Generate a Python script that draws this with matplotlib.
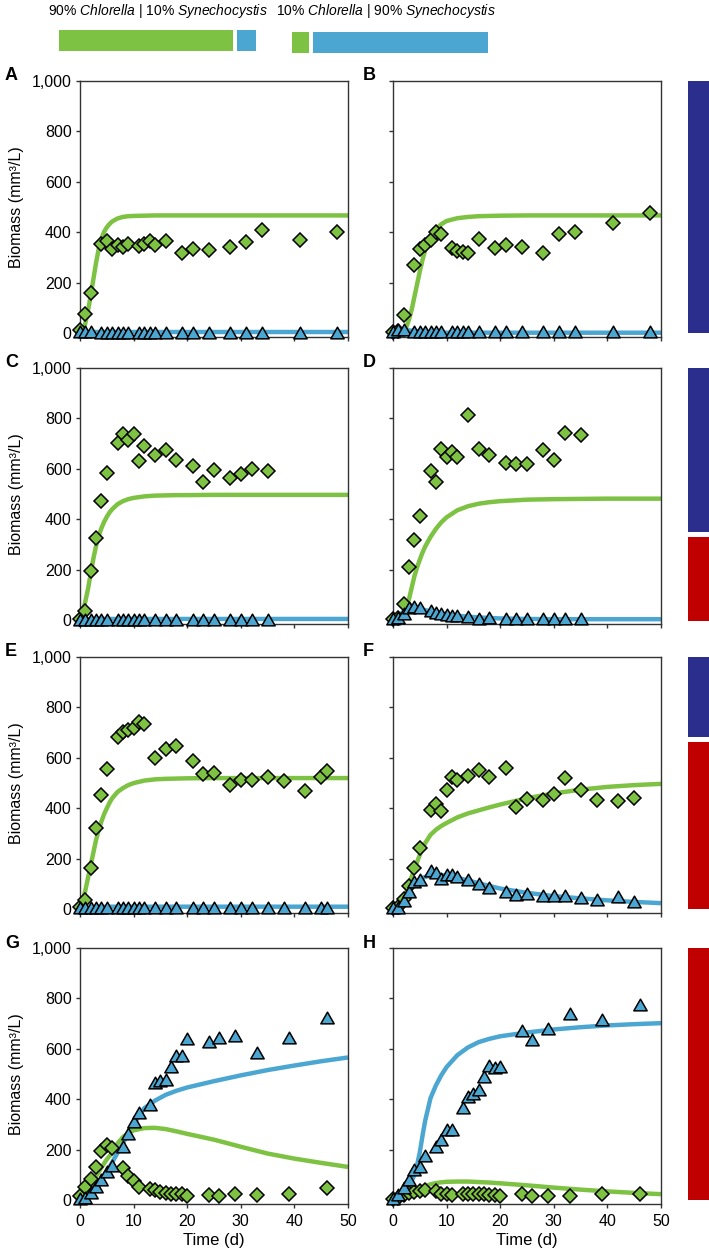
import matplotlib
matplotlib.use('Agg')
import matplotlib.pyplot as plt
from matplotlib.patches import Rectangle
from matplotlib.path import Path
from matplotlib.ticker import FuncFormatter

plt.rcParams['font.family'] = ['Liberation Sans', 'DejaVu Sans']
plt.rcParams['mathtext.fontset'] = 'custom'
plt.rcParams['mathtext.rm'] = 'Liberation Sans'
plt.rcParams['mathtext.it'] = 'Liberation Sans:italic'

# sampling days, per row of panels
t_AB = [0, 1, 2, 4, 5, 6, 7, 8, 9, 11, 12, 13, 14, 16, 19, 21, 24, 28, 31, 34, 41, 48]
t_CD = [0, 1, 2, 3, 4, 5, 7, 8, 9, 10, 11, 12, 14, 16, 18, 21, 23, 25, 28, 30, 32, 35]
t_E = [0, 1, 2, 3, 4, 5, 7, 8, 9, 10, 11, 12, 14, 16, 18, 21, 23, 25, 28, 30, 32, 35, 38, 42, 45, 46]
t_F = [0, 1, 2, 3, 4, 5, 7, 8, 9, 10, 11, 12, 14, 16, 18, 21, 23, 25, 28, 30, 32, 35, 38, 42, 45]
t_GH = [0, 1, 2, 3, 4, 5, 6, 8, 9, 10, 11, 13, 14, 15, 16, 17, 18, 19, 20, 24, 26, 29, 33, 39, 46]

# measured biomass (mm3/L): Chlorella (diamonds), Synechocystis (triangles)
chl_A = [13, 75, 160, 355, 364, 335, 350, 341, 355, 344, 352, 365, 348, 364, 317, 335, 331, 341, 361, 411, 368, 401]
syn_A = [3, 3, 3, 2, 2, 2, 2, 2, 2, 2, 2, 2, 2, 2, 2, 2, 2, 2, 2, 2, 2, 2]
chl_B = [5, 10, 73, 272, 335, 350, 368, 401, 392, 337, 324, 321, 317, 374, 337, 350, 341, 317, 392, 403, 438, 476]
syn_B = [3, 13, 11, 5, 3, 3, 3, 3, 3, 3, 3, 3, 3, 3, 3, 3, 3, 3, 3, 3, 3, 3]
chl_C = [4, 35, 194, 327, 473, 582, 704, 738, 714, 738, 631, 691, 655, 675, 637, 611, 548, 595, 562, 579, 598, 592]
syn_C = [2, 2, 2, 2, 2, 2, 2, 2, 2, 2, 2, 2, 2, 2, 2, 2, 2, 2, 2, 2, 2, 2]
chl_D = [5, 10, 64, 212, 319, 413, 592, 548, 677, 648, 668, 648, 814, 677, 657, 624, 621, 621, 675, 637, 741, 734]
syn_D = [3, 7, 24, 48, 53, 48, 35, 27, 24, 20, 17, 15, 11, 4, 7, 4, 4, 4, 4, 4, 4, 4]
chl_E = [10, 37, 165, 321, 454, 556, 681, 702, 712, 718, 741, 734, 599, 635, 646, 586, 536, 540, 493, 511, 513,
         526, 509, 470, 526, 549]
syn_E = [3, 4, 5, 6, 6, 6, 6, 6, 6, 6, 6, 6, 6, 6, 6, 6, 6, 6, 6, 6, 6, 6, 6, 6, 6, 6]
chl_F = [5, 10, 40, 93, 163, 242, 392, 417, 388, 474, 524, 513, 529, 553, 526, 560, 407, 437, 434, 456, 522, 474,
         434, 430, 440]
syn_F = [3, 5, 33, 70, 107, 116, 150, 143, 119, 134, 136, 126, 114, 99, 83, 70, 57, 61, 53, 54, 54, 46, 37, 48, 28]
chl_G = [15, 53, 86, 132, 195, 219, 208, 126, 95, 75, 53, 46, 40, 33, 29, 26, 23, 23, 16, 20, 16, 24, 19, 26, 49]
syn_G = [3, 7, 29, 53, 82, 113, 135, 212, 261, 311, 347, 377, 464, 474, 477, 530, 572, 570, 638, 629, 645, 652,
         585, 642, 722]
chl_H = [5, 10, 20, 29, 33, 37, 40, 37, 26, 26, 20, 26, 24, 24, 23, 23, 20, 20, 16, 23, 16, 17, 16, 24, 26]
syn_H = [3, 20, 49, 79, 119, 132, 175, 212, 238, 278, 278, 367, 411, 421, 437, 490, 532, 526, 530, 669, 636, 678,
         738, 715, 775]

t_fit = [0, 0.5, 1, 1.5, 2, 2.5, 3, 3.5, 4, 4.5, 5, 5.5, 6, 7, 8, 9, 10, 12, 14, 16, 18, 20, 25, 30, 35, 40, 45, 50]
chlfit_A = [0, 8, 40, 90, 150, 215, 280, 335, 375, 402, 420, 433, 443, 455, 461, 464, 465, 466, 467, 467, 467, 467,
            467, 467, 467, 467, 467, 467]
synfit_A = [3, 3, 3, 3, 3, 3, 3, 3, 3, 3, 3, 3, 3, 3, 3, 3, 3, 3, 3, 3, 3, 3, 3, 3, 3, 3, 3, 3]
chlfit_B = [0, 1, 3, 6, 12, 25, 55, 95, 145, 195, 245, 290, 330, 380, 412, 432, 445, 456, 461, 464, 465, 466, 467,
            467, 467, 467, 467, 467]
synfit_B = [3, 6, 9, 11, 12, 12, 11, 10, 9, 8, 7, 6, 5, 4, 3, 3, 2, 2, 2, 2, 2, 2, 2, 2, 2, 2, 2, 2]
chlfit_C = [5, 35, 75, 125, 185, 245, 295, 335, 365, 390, 410, 427, 440, 460, 472, 480, 485, 491, 494, 495, 496, 496,
            497, 497, 497, 497, 497, 497]
synfit_C = [2, 3, 4, 4, 5, 5, 5, 5, 5, 5, 5, 5, 5, 5, 5, 5, 5, 5, 5, 5, 5, 5, 5, 5, 5, 5, 5, 5]
chlfit_D = [0, 2, 5, 12, 25, 50, 85, 130, 175, 210, 240, 268, 292, 330, 362, 388, 408, 436, 452, 462, 468, 472,
            478, 480, 481, 482, 482, 482]
synfit_D = [0, 8, 15, 25, 35, 42, 46, 48, 48, 47, 45, 42, 40, 35, 31, 27, 24, 18, 14, 11, 9, 7, 5, 4, 4, 4, 4, 4]
chlfit_E = [5, 35, 75, 125, 175, 225, 275, 315, 348, 377, 400, 422, 440, 465, 480, 492, 500, 510, 515, 517, 518, 519,
            520, 520, 520, 520, 520, 520]
synfit_E = [2, 3, 4, 5, 6, 7, 8, 8, 9, 9, 10, 10, 10, 10, 10, 10, 10, 10, 10, 10, 10, 10, 10, 10, 10, 10, 10, 10]
chlfit_F = [2, 5, 10, 22, 40, 68, 100, 130, 160, 188, 215, 240, 262, 295, 315, 330, 342, 364, 380, 392, 404, 415,
            440, 459, 474, 485, 492, 497]
synfit_F = [2, 6, 12, 22, 35, 52, 70, 86, 100, 110, 118, 124, 128, 133, 135, 135, 133, 125, 114, 103, 92, 82, 65,
            52, 43, 35, 29, 24]
chlfit_G = [0, 12, 28, 44, 60, 77, 95, 112, 130, 146, 162, 175, 188, 225, 250, 266, 277, 286, 287, 282, 273, 263,
            240, 212, 185, 165, 148, 132]
synfit_G = [0, 8, 16, 25, 35, 46, 58, 70, 85, 100, 115, 132, 150, 188, 225, 265, 302, 365, 395, 418, 434, 447, 472,
            495, 516, 534, 551, 566]
chlfit_H = [0, 4, 8, 12, 17, 22, 27, 32, 37, 42, 47, 52, 56, 63, 68, 71, 73, 74, 74, 72, 70, 67, 59, 50, 42, 35,
            29, 24]
synfit_H = [0, 7, 15, 25, 35, 47, 60, 78, 100, 140, 190, 255, 315, 405, 455, 495, 528, 575, 606, 627, 640, 650, 665,
            677, 686, 693, 698, 702]

green = '#7DC242'
blue = '#4BA7D1'
navy = '#2B2E8C'
red = '#C00000'

W, H = 709, 1255
fig = plt.figure(figsize=(W / 100, H / 100), dpi=100)

tri = Path([(-1, -0.8), (1, -0.8), (0, 0.95), (-1, -0.8)], [1, 2, 2, 79])


def box(x0, y0, x1, y1, color):
    # rectangle given in pixel coordinates (y from top)
    fig.add_artist(Rectangle((x0 / W, 1 - y1 / H), (x1 - x0) / W, (y1 - y0) / H,
                             transform=fig.transFigure, color=color, lw=0))


def panel(left, top, letter, t, chl, syn, chlfit, synfit, first_col, bottom_row):
    bottom = top + 256
    ax = fig.add_axes([left / W, 1 - bottom / H, 268 / W, 256 / H])
    ax.plot(t_fit, synfit, color=blue, lw=3.2, zorder=2, solid_capstyle='butt')
    ax.plot(t_fit, chlfit, color=green, lw=3.2, zorder=2, solid_capstyle='butt')
    ax.plot(t, chl, ls='none', marker='D', ms=6.8, mfc=green, mec='black', mew=1.1, zorder=3, clip_on=False)
    ax.plot(t, syn, ls='none', marker=tri, ms=9.6, mfc=blue, mec='black', mew=1.1, zorder=4, clip_on=False)
    ax.set_xlim(0, 50)
    ax.set_ylim(-15, 1000)
    ax.set_xticks([0, 10, 20, 30, 40, 50])
    ax.set_yticks([0, 200, 400, 600, 800, 1000])
    ax.yaxis.set_major_formatter(FuncFormatter(lambda v, p: f'{int(v):,}'))
    ax.tick_params(direction='out', length=3, width=1, labelsize=11.5, pad=3, color='#333333')
    for s in ax.spines.values():
        s.set_linewidth(1.0)
        s.set_color('#333333')
    if not first_col:
        ax.tick_params(labelleft=False)
        lx = left - 30
    else:
        lx = left - 75
        fig.text(17 / W, 1 - (top + 126) / H, 'Biomass (mm³/L)', rotation=90,
                 ha='center', va='center', fontsize=11.5)
    if not bottom_row:
        ax.tick_params(labelbottom=False)
    else:
        ax.tick_params(axis='x', pad=4)
        ax.set_xlabel('Time (d)', fontsize=12, labelpad=3)
    fig.text(lx / W, 1 - (top - 5) / H, letter, fontsize=13, fontweight='bold',
             ha='left', va='center')
    return ax


panel(80, 81, 'A', t_AB, chl_A, syn_A, chlfit_A, synfit_A, True, False)
panel(393, 81, 'B', t_AB, chl_B, syn_B, chlfit_B, synfit_B, False, False)
panel(80, 368, 'C', t_CD, chl_C, syn_C, chlfit_C, synfit_C, True, False)
panel(393, 368, 'D', t_CD, chl_D, syn_D, chlfit_D, synfit_D, False, False)
panel(80, 657, 'E', t_E, chl_E, syn_E, chlfit_E, synfit_E, True, False)
panel(393, 657, 'F', t_F, chl_F, syn_F, chlfit_F, synfit_F, False, False)
panel(80, 948, 'G', t_GH, chl_G, syn_G, chlfit_G, synfit_G, True, True)
panel(393, 948, 'H', t_GH, chl_H, syn_H, chlfit_H, synfit_H, False, True)

# inoculum ratio headers
fig.text(158 / W, 1 - 11 / H, r'90% $\mathit{Chlorella}$ | 10% $\mathit{Synechocystis}$',
         ha='center', va='center', fontsize=10)
fig.text(386 / W, 1 - 11 / H, r'10% $\mathit{Chlorella}$ | 90% $\mathit{Synechocystis}$',
         ha='center', va='center', fontsize=10)
box(59, 30, 233, 51, green)
box(237, 30, 256, 51, blue)
box(292, 32, 309, 53, green)
box(313, 32, 488, 53, blue)

# light regime bars on the right
box(688, 81, 709, 333, navy)
box(688, 368, 709, 532, navy)
box(688, 537, 709, 621, red)
box(688, 657, 709, 737, navy)
box(688, 742, 709, 909, red)
box(688, 948, 709, 1200, red)

plt.savefig('out.png', dpi=100)
